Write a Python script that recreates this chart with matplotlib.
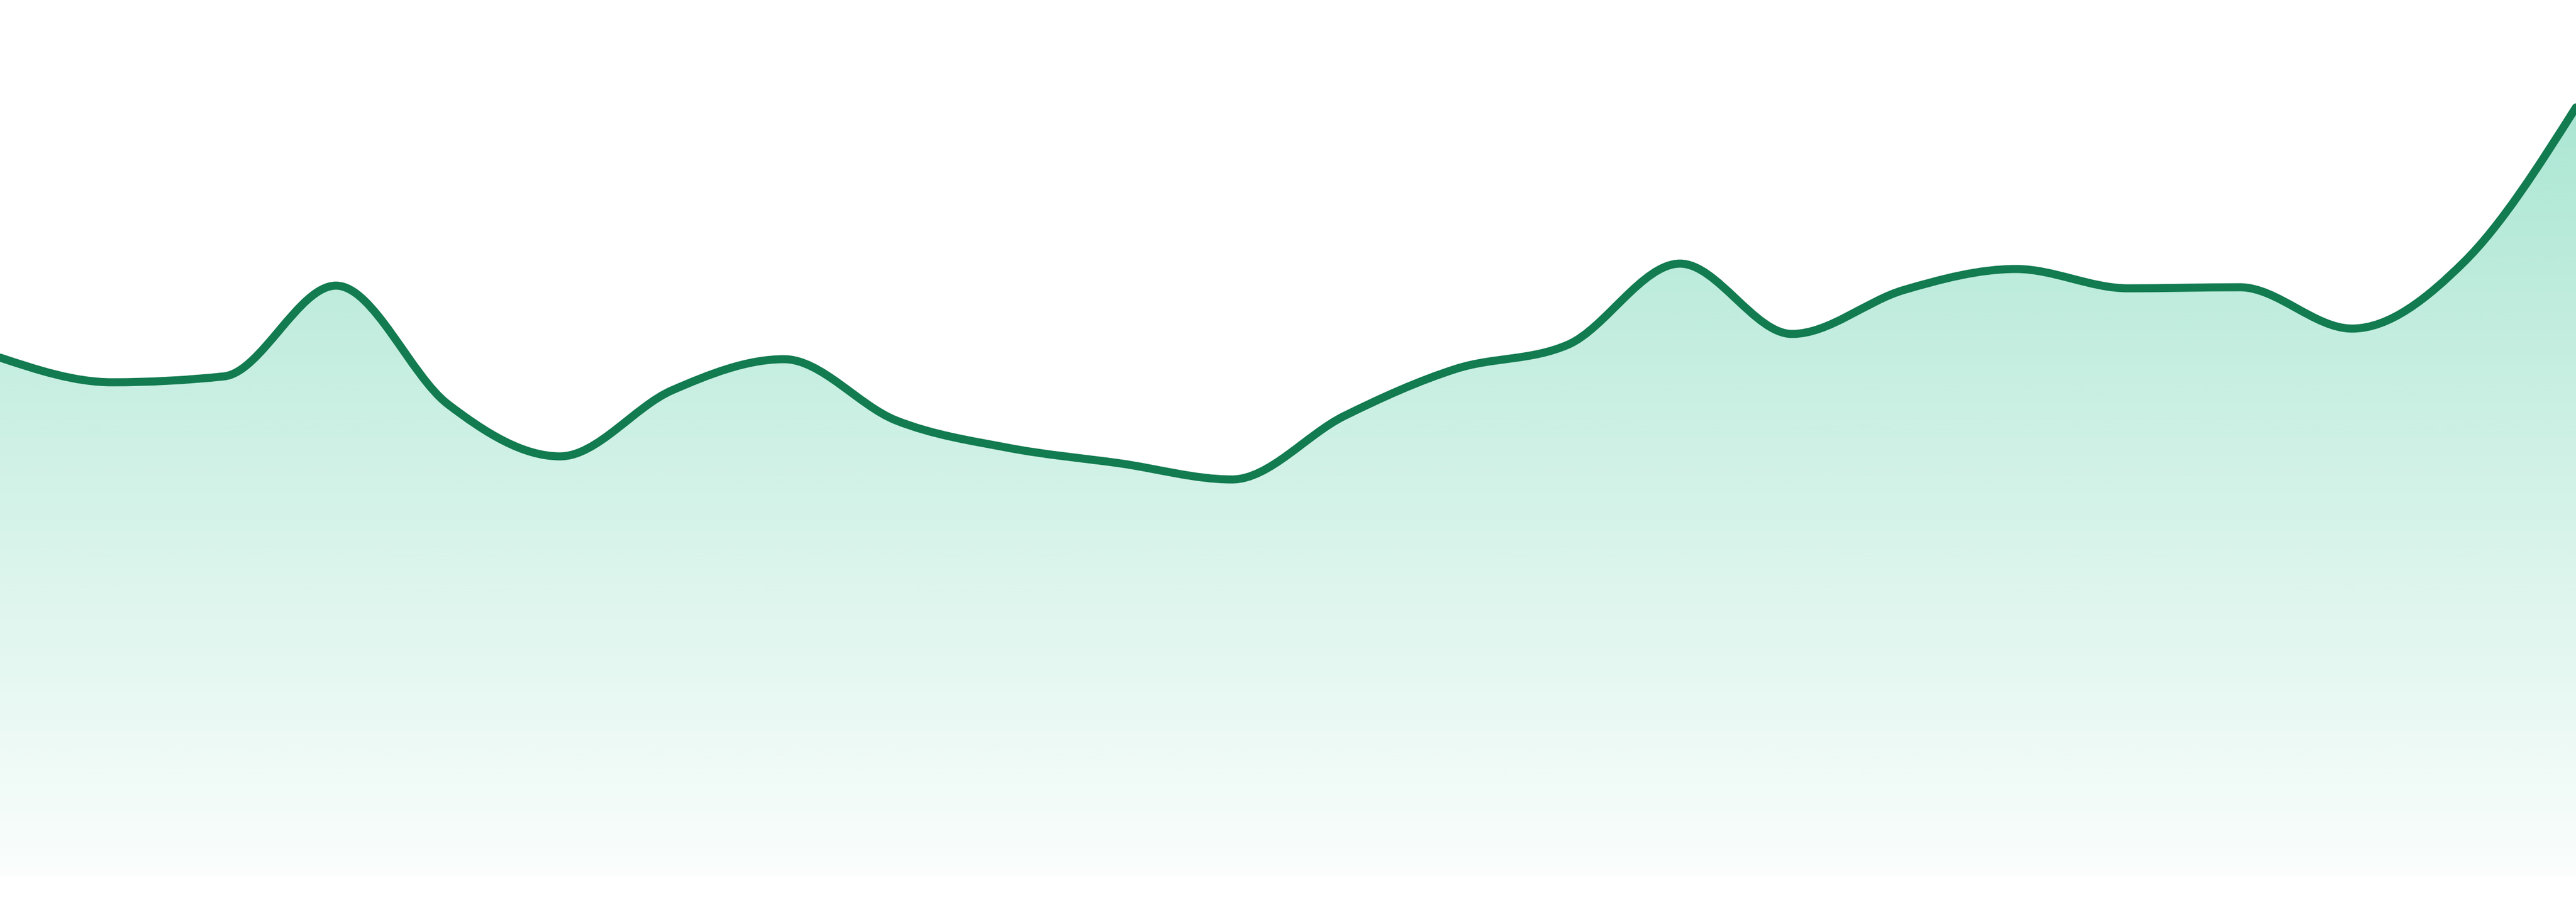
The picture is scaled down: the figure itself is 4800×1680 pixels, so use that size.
import numpy as np
import matplotlib
matplotlib.use("Agg")
import matplotlib.pyplot as plt
from matplotlib.path import Path
from matplotlib.patches import PathPatch
from matplotlib.colors import to_rgb

# values (one per step, no labels shown)
values = [96.6, 92.0, 93.1, 110.0, 87.9, 78.2, 90.5, 96.3, 84.9, 79.8, 76.9, 73.9,
          85.7, 94.5, 99.0, 114.1, 101.0, 109.2, 113.1, 109.5, 109.7, 102.0, 114.4, 143.2]
steps = list(range(len(values)))

line_color = '#127b50'
fill_color = '#10b981'


def monotone_tangents(xs, ys):
    # same tangents as d3.curveMonotoneX
    n = len(xs)
    t = np.zeros(n)
    for i in range(1, n - 1):
        h0 = xs[i] - xs[i - 1]
        h1 = xs[i + 1] - xs[i]
        s0 = (ys[i] - ys[i - 1]) / h0
        s1 = (ys[i + 1] - ys[i]) / h1
        p = (s0 * h1 + s1 * h0) / (h0 + h1)
        t[i] = (np.sign(s0) + np.sign(s1)) * min(abs(s0), abs(s1), 0.5 * abs(p))
    t[0] = (3 * (ys[1] - ys[0]) / (xs[1] - xs[0]) - t[1]) / 2
    t[-1] = (3 * (ys[-1] - ys[-2]) / (xs[-1] - xs[-2]) - t[-2]) / 2
    return t


def curve_vertices(xs, ys):
    t = monotone_tangents(xs, ys)
    verts = [(xs[0], ys[0])]
    codes = [Path.MOVETO]
    for i in range(len(xs) - 1):
        dx = (xs[i + 1] - xs[i]) / 3
        verts += [(xs[i] + dx, ys[i] + dx * t[i]),
                  (xs[i + 1] - dx, ys[i + 1] - dx * t[i + 1]),
                  (xs[i + 1], ys[i + 1])]
        codes += [Path.CURVE4] * 3
    return verts, codes


fig = plt.figure(figsize=(48, 16.8), dpi=100, facecolor='white')
ax = fig.add_axes([0, 0, 1, 1])
ax.set_xlim(steps[0], steps[-1])
ax.set_ylim(-4.8, 163.2)
ax.axis('off')

verts, codes = curve_vertices(steps, values)
line_path = Path(verts, codes)

area_verts = verts + [(steps[-1], 0), (steps[0], 0), (steps[0], values[0])]
area_codes = codes + [Path.LINETO, Path.LINETO, Path.CLOSEPOLY]
area_patch = PathPatch(Path(area_verts, area_codes), facecolor='none', edgecolor='none')
ax.add_patch(area_patch)

# vertical gradient under the curve
top = max(values)
grad = np.zeros((256, 1, 4))
grad[:, 0, :3] = to_rgb(fill_color)
grad[:, 0, 3] = np.linspace(0.02, 0.35, 256)
img = ax.imshow(grad, extent=[steps[0], steps[-1], 0, top], origin='lower',
                aspect='auto', interpolation='bilinear', zorder=1)
img.set_clip_path(area_patch)

ax.add_patch(PathPatch(line_path, facecolor='none', edgecolor=line_color,
                       lw=10.8, capstyle='round', joinstyle='round', zorder=2))

fig.savefig('out.png', dpi=100, facecolor='white')
